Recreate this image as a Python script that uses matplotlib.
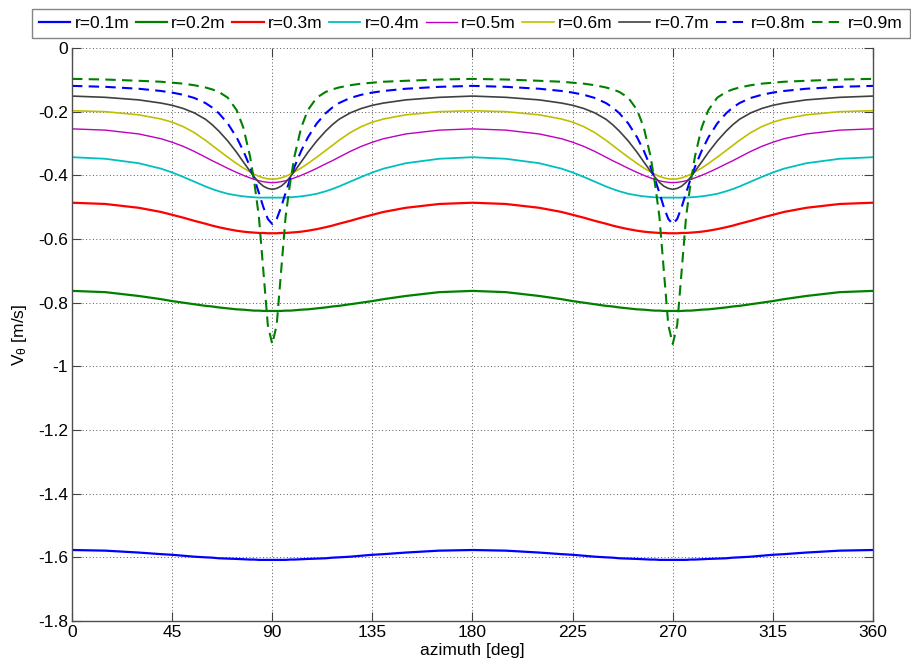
"""
Tangential velocity vs azimuth for several radii
"""

import numpy as np
import matplotlib
matplotlib.use('agg')

import matplotlib.pyplot as plt
from matplotlib.ticker import FuncFormatter

plt.rcParams['font.family'] = ['Liberation Sans', 'DejaVu Sans']
plt.rcParams['mathtext.default'] = 'regular'
plt.rcParams['axes.unicode_minus'] = False

# ------------- data (azimuth in deg, V_theta in m/s) ------------------
azimuth = [
    0, 15, 30, 40, 45, 50, 55, 60, 63, 66, 70, 74, 77, 80, 82, 84, 86, 88,
    90, 92, 94, 96, 98, 100, 103, 106, 110, 114, 117, 120, 125, 130, 135, 140, 150, 165,
    180, 195, 210, 220, 225, 230, 235, 240, 243, 246, 250, 254, 257, 260, 262, 264, 266, 268,
    270, 272, 274, 276, 278, 280, 283, 286, 290, 294, 297, 300, 305, 310, 315, 320, 330, 345,
    360,
]

v_r01 = [
    -1.577, -1.579, -1.585, -1.590, -1.592, -1.595, -1.598, -1.600, -1.601, -1.603, -1.604, -1.605, -1.606, -1.607, -1.607, -1.608, -1.608, -1.608,
    -1.608, -1.608, -1.608, -1.608, -1.607, -1.607, -1.606, -1.605, -1.604, -1.603, -1.601, -1.600, -1.598, -1.595, -1.592, -1.590, -1.585, -1.579,
    -1.577, -1.579, -1.585, -1.590, -1.592, -1.595, -1.598, -1.600, -1.601, -1.603, -1.604, -1.605, -1.606, -1.607, -1.607, -1.608, -1.608, -1.608,
    -1.608, -1.608, -1.608, -1.608, -1.607, -1.607, -1.606, -1.605, -1.604, -1.603, -1.601, -1.600, -1.598, -1.595, -1.592, -1.590, -1.585, -1.579,
    -1.577,
]
v_r02 = [
    -0.763, -0.767, -0.779, -0.789, -0.795, -0.800, -0.805, -0.810, -0.812, -0.815, -0.818, -0.821, -0.822, -0.824, -0.825, -0.825, -0.826, -0.826,
    -0.826, -0.826, -0.826, -0.825, -0.825, -0.824, -0.822, -0.821, -0.818, -0.815, -0.812, -0.810, -0.805, -0.800, -0.795, -0.789, -0.779, -0.767,
    -0.763, -0.767, -0.779, -0.789, -0.795, -0.800, -0.805, -0.810, -0.812, -0.815, -0.818, -0.821, -0.822, -0.824, -0.825, -0.825, -0.826, -0.826,
    -0.826, -0.826, -0.826, -0.825, -0.825, -0.824, -0.822, -0.821, -0.818, -0.815, -0.812, -0.810, -0.805, -0.800, -0.795, -0.789, -0.779, -0.767,
    -0.763,
]
v_r03 = [
    -0.486, -0.490, -0.502, -0.515, -0.524, -0.533, -0.543, -0.552, -0.558, -0.563, -0.569, -0.574, -0.577, -0.579, -0.580, -0.581, -0.581, -0.582,
    -0.582, -0.582, -0.581, -0.581, -0.580, -0.579, -0.577, -0.574, -0.569, -0.563, -0.558, -0.552, -0.543, -0.533, -0.524, -0.515, -0.502, -0.490,
    -0.486, -0.490, -0.502, -0.515, -0.524, -0.533, -0.543, -0.552, -0.558, -0.563, -0.569, -0.574, -0.577, -0.579, -0.580, -0.581, -0.581, -0.582,
    -0.582, -0.582, -0.581, -0.581, -0.580, -0.579, -0.577, -0.574, -0.569, -0.563, -0.558, -0.552, -0.543, -0.533, -0.524, -0.515, -0.502, -0.490,
    -0.486,
]
v_r04 = [
    -0.343, -0.348, -0.362, -0.379, -0.391, -0.405, -0.420, -0.435, -0.443, -0.450, -0.458, -0.463, -0.466, -0.468, -0.469, -0.470, -0.470, -0.470,
    -0.470, -0.470, -0.470, -0.470, -0.469, -0.468, -0.466, -0.463, -0.458, -0.450, -0.443, -0.435, -0.420, -0.405, -0.391, -0.379, -0.362, -0.348,
    -0.343, -0.348, -0.362, -0.379, -0.391, -0.405, -0.420, -0.435, -0.443, -0.450, -0.458, -0.463, -0.466, -0.468, -0.469, -0.470, -0.470, -0.470,
    -0.470, -0.470, -0.470, -0.470, -0.469, -0.468, -0.466, -0.463, -0.458, -0.450, -0.443, -0.435, -0.420, -0.405, -0.391, -0.379, -0.362, -0.348,
    -0.343,
]
v_r05 = [
    -0.254, -0.258, -0.270, -0.285, -0.296, -0.309, -0.325, -0.343, -0.354, -0.364, -0.378, -0.391, -0.400, -0.408, -0.413, -0.417, -0.420, -0.422,
    -0.423, -0.422, -0.420, -0.417, -0.413, -0.408, -0.400, -0.391, -0.378, -0.364, -0.354, -0.343, -0.325, -0.309, -0.296, -0.285, -0.270, -0.258,
    -0.254, -0.258, -0.270, -0.285, -0.296, -0.309, -0.325, -0.343, -0.354, -0.364, -0.378, -0.391, -0.400, -0.408, -0.413, -0.417, -0.420, -0.422,
    -0.423, -0.422, -0.420, -0.417, -0.413, -0.408, -0.400, -0.391, -0.378, -0.364, -0.354, -0.343, -0.325, -0.309, -0.296, -0.285, -0.270, -0.258,
    -0.254,
]
v_r06 = [
    -0.197, -0.200, -0.210, -0.223, -0.233, -0.247, -0.266, -0.290, -0.306, -0.322, -0.343, -0.363, -0.377, -0.389, -0.397, -0.403, -0.408, -0.411,
    -0.412, -0.411, -0.408, -0.403, -0.397, -0.389, -0.377, -0.363, -0.343, -0.322, -0.306, -0.290, -0.266, -0.247, -0.233, -0.223, -0.210, -0.200,
    -0.197, -0.200, -0.210, -0.223, -0.233, -0.247, -0.266, -0.290, -0.306, -0.322, -0.343, -0.363, -0.377, -0.389, -0.397, -0.403, -0.408, -0.411,
    -0.412, -0.411, -0.408, -0.403, -0.397, -0.389, -0.377, -0.363, -0.343, -0.322, -0.306, -0.290, -0.266, -0.247, -0.233, -0.223, -0.210, -0.200,
    -0.197,
]
v_r07 = [
    -0.151, -0.155, -0.163, -0.173, -0.180, -0.190, -0.204, -0.224, -0.241, -0.261, -0.292, -0.328, -0.358, -0.387, -0.406, -0.422, -0.434, -0.441,
    -0.444, -0.441, -0.434, -0.422, -0.406, -0.387, -0.358, -0.328, -0.292, -0.261, -0.241, -0.224, -0.204, -0.190, -0.180, -0.173, -0.163, -0.155,
    -0.151, -0.155, -0.163, -0.173, -0.180, -0.190, -0.204, -0.224, -0.241, -0.261, -0.292, -0.328, -0.358, -0.387, -0.406, -0.422, -0.434, -0.441,
    -0.444, -0.441, -0.434, -0.422, -0.406, -0.387, -0.358, -0.328, -0.292, -0.261, -0.241, -0.224, -0.204, -0.190, -0.180, -0.173, -0.163, -0.155,
    -0.151,
]
v_r08 = [
    -0.119, -0.122, -0.128, -0.135, -0.140, -0.147, -0.157, -0.173, -0.187, -0.205, -0.237, -0.281, -0.323, -0.373, -0.412, -0.455, -0.500, -0.537,
    -0.553, -0.537, -0.500, -0.455, -0.412, -0.373, -0.323, -0.281, -0.237, -0.205, -0.187, -0.173, -0.157, -0.147, -0.140, -0.135, -0.128, -0.122,
    -0.119, -0.122, -0.128, -0.135, -0.140, -0.147, -0.157, -0.173, -0.187, -0.205, -0.237, -0.281, -0.323, -0.373, -0.412, -0.455, -0.500, -0.537,
    -0.553, -0.537, -0.500, -0.455, -0.412, -0.373, -0.323, -0.281, -0.237, -0.205, -0.187, -0.173, -0.157, -0.147, -0.140, -0.135, -0.128, -0.122,
    -0.119,
]
v_r09 = [
    -0.097, -0.099, -0.103, -0.106, -0.109, -0.112, -0.117, -0.124, -0.130, -0.138, -0.156, -0.195, -0.250, -0.340, -0.425, -0.530, -0.700, -0.870,
    -0.930, -0.870, -0.700, -0.530, -0.425, -0.340, -0.250, -0.195, -0.156, -0.138, -0.130, -0.124, -0.117, -0.112, -0.109, -0.106, -0.103, -0.099,
    -0.097, -0.099, -0.103, -0.106, -0.109, -0.112, -0.117, -0.124, -0.130, -0.138, -0.156, -0.195, -0.250, -0.340, -0.425, -0.530, -0.700, -0.870,
    -0.930, -0.870, -0.700, -0.530, -0.425, -0.340, -0.250, -0.195, -0.156, -0.138, -0.130, -0.124, -0.117, -0.112, -0.109, -0.106, -0.103, -0.099,
    -0.097,
]

labels = ['r=0.1m', 'r=0.2m', 'r=0.3m', 'r=0.4m', 'r=0.5m',
          'r=0.6m', 'r=0.7m', 'r=0.8m', 'r=0.9m']

# ----------- figure setup --------------------------------
fig = plt.figure(figsize=(9.12, 6.64), dpi=100)
ax = fig.add_axes([72 / 912, 1 - 621 / 664, 801 / 912, 573 / 664])

series = [v_r01, v_r02, v_r03, v_r04, v_r05, v_r06, v_r07, v_r08, v_r09]
styles = [
    ((0, 0, 1), '-', 1.6),
    ((0, 0.5, 0), '-', 1.6),
    ((1, 0, 0), '-', 1.6),
    ((0, 0.75, 0.75), '-', 1.3),
    ((0.75, 0, 0.75), '-', 1.0),
    ((0.75, 0.75, 0), '-', 1.2),
    ((0.25, 0.25, 0.25), '-', 1.2),
    ((0, 0, 1), '--', 1.5),
    ((0, 0.5, 0), '--', 1.5),
]
for vals, (color, ls, lw), lab in zip(series, styles, labels):
    ax.plot(azimuth, vals, color=color, linestyle=ls, linewidth=lw,
            label=lab, dashes=(5, 3) if ls == '--' else (None, None))

# ----------- axes control --------------------------------
ax.set_xlim(0, 360)
ax.set_ylim(-1.8, 0)
ax.set_xticks(np.arange(0, 361, 45))
ax.set_yticks(np.arange(-1.8, 0.01, 0.2))
ax.yaxis.set_major_formatter(
    FuncFormatter(lambda v, p: '%g' % (round(v, 2) + 0.0)))
ax.tick_params(direction='in', length=6.5, width=0.8, top=True, right=True,
               labelsize=12.5, pad=3, color='0.25')
ax.grid(True, linestyle=(0, (1, 2.5)), color='0.35', linewidth=0.7)
for side in ['left', 'bottom', 'right']:
    ax.spines[side].set_color('0.3')
    ax.spines[side].set_linewidth(1.0)
ax.spines['top'].set_visible(False)

ax.set_xlabel('azimuth [deg]', fontsize=12.5, labelpad=2)
ax.set_ylabel(r'V$_\theta$ [m/s]', fontsize=12.5, labelpad=6)

leg = fig.legend(loc='upper left', bbox_to_anchor=(32 / 912, 1 - 9 / 664),
                 ncol=9, fontsize=12.5, handlelength=1.8, handletextpad=0.25,
                 columnspacing=0.37, borderaxespad=0, borderpad=0.4,
                 frameon=True, fancybox=False)
leg.get_frame().set_edgecolor('0.4')
leg.get_frame().set_linewidth(1.0)

fig.savefig('out.png', dpi=100)
